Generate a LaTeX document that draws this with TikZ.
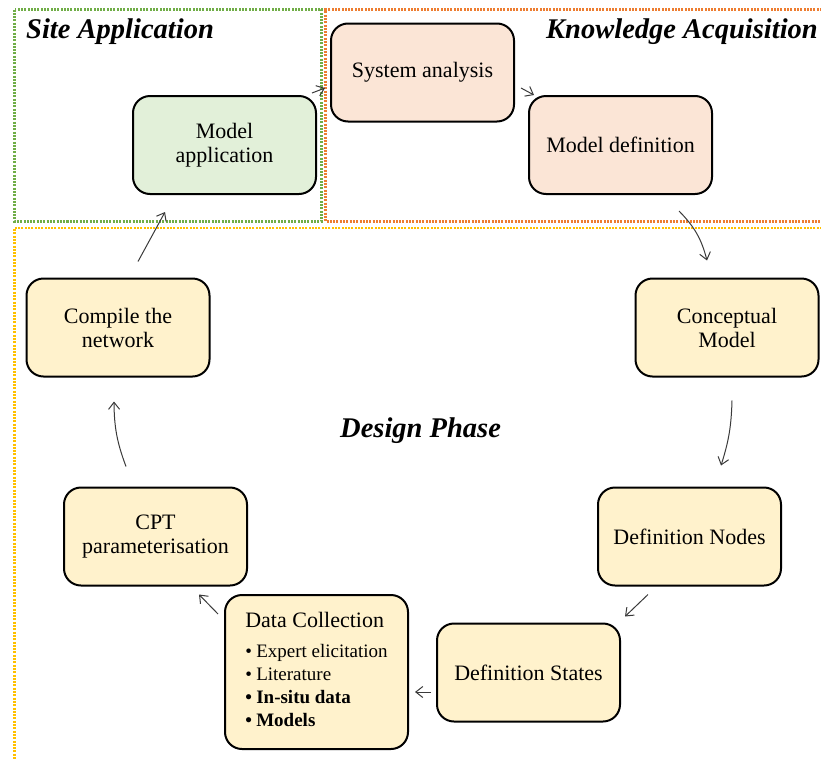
\documentclass[tikz,border=0pt]{standalone}
\usepackage{fontspec}
\setmainfont{Liberation Serif}
\usetikzlibrary{arrows.meta}

\definecolor{peachfill}{HTML}{FBE5D6}
\definecolor{greenfill}{HTML}{E2F0D9}
\definecolor{yellowfill}{HTML}{FFF2CC}
\definecolor{greenline}{HTML}{70AD47}
\definecolor{orangeline}{HTML}{ED7D31}
\definecolor{yellowline}{HTML}{FFC000}
\definecolor{arrowgray}{HTML}{3A3A3A}

\begin{document}
\begin{tikzpicture}[x=1pt,y=-1pt,
  stepbox/.style={draw=black, line width=2pt, rounded corners=17pt,
    minimum width=183pt, minimum height=98pt, inner sep=0pt, align=center,
    font=\fontsize{22}{24}\selectfont},
  peachbox/.style={stepbox, fill=peachfill},
  greenbox/.style={stepbox, fill=greenfill},
  yellowbox/.style={stepbox, fill=yellowfill},
  region/.style={line width=2.2pt, dash pattern=on 2pt off 1.3pt},
  phase/.style={anchor=base west, inner sep=0pt,
    font=\fontsize{28.5}{31}\selectfont\bfseries\itshape},
  flow/.style={draw=arrowgray, line width=1pt,
    -{Straight Barb[length=7pt,width=11pt]}}
]
\useasboundingbox (0,0) rectangle (821,758);

% phase regions
\draw[region, yellowline] (822,228) -- (14.5,228) -- (14.5,759);
\draw[region, greenline] (14.5,9.5) rectangle (321.5,221.5);
\draw[region, orangeline] (822,9.5) -- (325.5,9.5) -- (325.5,221.5) -- (822,221.5);

% phase titles
\node[phase] (tsite) at (26,38) {Site Application};
\node[phase, anchor=base east] (tknow) at (818,38) {Knowledge Acquisition};
\node[phase] (tdesign) at (340,437) {Design Phase};

% steps
\node[peachbox]  (sa)  at (422.5,72.5) {System analysis};
\node[peachbox]  (md)  at (620.5,145)  {Model definition};
\node[greenbox]  (ma)  at (224.5,145)  {Model\\application};
\node[yellowbox] (cm)  at (727,327.5)  {Conceptual\\Model};
\node[yellowbox] (dn)  at (689.5,536.5) {Definition Nodes};
\node[yellowbox] (ds)  at (528.5,672.5) {Definition States};
\node[yellowbox, minimum height=154pt, align=left,
      font=\fontsize{19}{23}\selectfont] (dc) at (316.5,672)
  {{\fontsize{22}{24}\selectfont Data Collection}\\[7pt]
   \makebox[11pt][l]{•}Expert elicitation\\
   \makebox[11pt][l]{•}Literature\\
   \textbf{\makebox[11pt][l]{•}In-situ data}\\
   \textbf{\makebox[11pt][l]{•}Models}\rule[-5pt]{0pt}{5pt}};
\node[yellowbox] (cpt) at (155.5,536.5) {CPT\\parameterisation};
\node[yellowbox] (cn)  at (118,327.5)  {Compile the\\network};

% cycle of steps
\draw[flow] ([shift={(-5,-2)}]ma.north east) -- ([shift={(-5,15.5)}]sa.west);
\draw[flow] ([shift={(6,15.5)}]sa.east) -- ([shift={(6,0)}]md.north west);
\draw[flow] ([shift={(58.5,16)}]md.south) to[bend left=15] ([shift={(-20,-17)}]cm.north);
\draw[flow] ([shift={(5,23)}]cm.south) to[bend left=8] ([shift={(31.5,-21)}]dn.north);
\draw[flow] ([shift={(-41.5,8)}]dn.south) -- ([shift={(4,-6)}]ds.north east);
\draw[flow] ([shift={(-5,19.5)}]ds.west) -- ([shift={(6,20)}]dc.east);
\draw[flow] ([shift={(-6,20)}]dc.north west) -- ([shift={(-49,8)}]cpt.south east);
\draw[flow] ([shift={(-29.5,-20)}]cpt.north) to[bend left=10] ([shift={(-4,24)}]cn.south);
\draw[flow] ([shift={(20,-16)}]cn.north) -- ([shift={(-59.5,17)}]ma.south);
\end{tikzpicture}
\end{document}
